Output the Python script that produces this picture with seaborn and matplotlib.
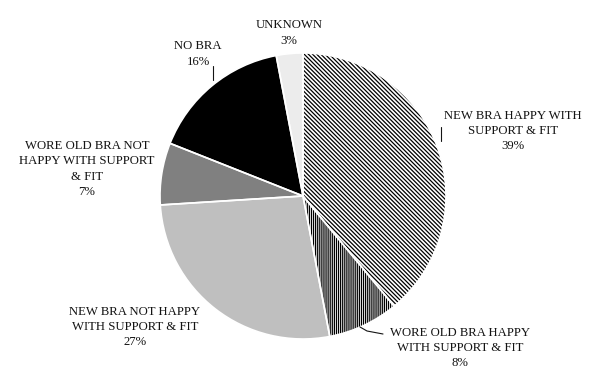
import matplotlib
matplotlib.use("Agg")
import matplotlib.pyplot as plt
import seaborn as sns

# slice data, clockwise from 12 o'clock
categories = [
    "NEW BRA HAPPY WITH\nSUPPORT & FIT",
    "WORE OLD BRA HAPPY\nWITH SUPPORT & FIT",
    "NEW BRA NOT HAPPY\nWITH SUPPORT & FIT",
    "WORE OLD BRA NOT\nHAPPY WITH SUPPORT\n& FIT",
    "NO BRA",
    "UNKNOWN",
]
shares = [39, 8, 27, 7, 16, 3]

colors = ["white", "white", "#bfbfbf", "#808080", "black", "#ececec"]
hatches = ["\\" * 8, "|" * 8, None, None, None, None]

sns.set_style("white")
plt.rcParams["font.family"] = ["Liberation Serif", "DejaVu Serif"]
plt.rcParams["hatch.linewidth"] = 0.9

W, H = 600, 389
fig = plt.figure(figsize=(6, 3.89), dpi=100)
ax = fig.add_axes([0, 0, 1, 1])

center = (303, H - 196)
radius = 143

# filled / hatched wedges
wedges, _ = ax.pie(shares, colors=colors, startangle=90, counterclock=False,
                   center=center, radius=radius, frame=True,
                   wedgeprops=dict(edgecolor="black", linewidth=0))
for w, h in zip(wedges, hatches):
    if h:
        w.set_hatch(h)

# white separators on top
ax.pie(shares, colors=["none"] * len(shares), startangle=90, counterclock=False,
       center=center, radius=radius, frame=True,
       wedgeprops=dict(edgecolor="white", linewidth=1.2))
ax.set_xlim(0, W)
ax.set_ylim(0, H)
ax.set_aspect("equal")
ax.axis("off")

# label placement (pixel coords from top-left)
label_pos = [(513, 131), (460, 348), (135, 327), (87, 169), (198, 54), (289, 33)]
txt_color = "#141414"
for name, pct, (x, y) in zip(categories, shares, label_pos):
    ax.text(x, H - y, f"{name}\n{pct}%", ha="center", va="center",
            fontsize=9.2, color=txt_color, linespacing=1.35)

# leader lines
leaders = [
    [(441, 127), (441, 141)],
    [(360, 327), (367, 331), (383, 334)],
    [(213, 66), (213, 80)],
]
for pts in leaders:
    xs = [p[0] for p in pts]
    ys = [H - p[1] for p in pts]
    ax.plot(xs, ys, color=txt_color, lw=0.8)

fig.savefig("out.png", dpi=100)
